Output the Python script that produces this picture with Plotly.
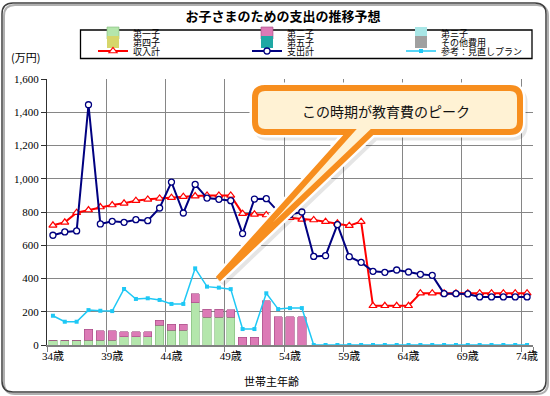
import plotly.graph_objects as go

# ---------------- data ----------------
ages = ["34歳", "35歳", "36歳", "37歳", "38歳", "39歳", "40歳", "41歳", "42歳", "43歳",
        "44歳", "45歳", "46歳", "47歳", "48歳", "49歳", "50歳", "51歳", "52歳", "53歳",
        "54歳", "55歳", "56歳", "57歳", "58歳", "59歳", "60歳", "61歳", "62歳", "63歳",
        "64歳", "65歳", "66歳", "67歳", "68歳", "69歳", "70歳", "71歳", "72歳", "73歳", "74歳"]
tick_labels = ["34歳", "39歳", "44歳", "49歳", "54歳", "59歳", "64歳", "69歳", "74歳"]

child1 = [30, 30, 30, 30, 30, 30, 50, 50, 50, 120, 90, 90, 254, 167, 167, 167,
          0, 0, 0, 0, 0, 0, 0, 0, 0, 0, 0, 0, 0, 0, 0, 0, 0, 0, 0, 0, 0, 0, 0, 0, 0]
child2 = [0, 0, 0, 66, 56, 56, 30, 30, 30, 30, 36, 36, 53, 49, 49, 45,
          46, 46, 267, 170, 170, 170, 0, 0, 0, 0, 0, 0, 0, 0, 0, 0, 0, 0, 0, 0, 0, 0, 0, 0, 0]
child3 = [0] * 41
child4 = [0] * 41
child5 = [0] * 41
other_cost = [0] * 41

income = [720, 738, 796, 812, 830, 842, 852, 868, 876, 882, 886, 892, 896, 900, 900, 900,
          790, 786, 782, 772, 766, 756, 752, 742, 732, 718, 742, 236, 236, 236, 236,
          312, 312, 312, 312, 312, 312, 312, 312, 312, 312]
expense = [660, 680, 686, 1445, 728, 744, 738, 754, 748, 824, 980, 794, 966, 884, 876, 868,
           670, 878, 880, 802, 785, 800, 533, 537, 724, 531, 497, 443, 437, 451, 439, 425, 419,
           309, 309, 307, 289, 289, 289, 289, 289]
plan = [176, 140, 140, 210, 206, 204, 337, 277, 281, 271, 247, 247, 461, 351, 345, 336,
        96, 96, 311, 216, 222, 222, 0, 0, 0, 0, 0, 0, 0, 0, 0, 0, 0, 0, 0, 0, 0, 0, 0, 0, 0]

# ---------------- layout geometry (pixels) ----------------
W, H = 550, 396
L, R, T, B = 47, 533, 79, 345
PW, PH = R - L, B - T


def px(x):
    return (x - L) / PW


def py(y):
    return (B - y) / PH


def rrect_path(x0, y0, x1, y1, r, tail=None):
    pts = [f"M{px(x0 + r)},{py(y0)}", f"L{px(x1 - r)},{py(y0)}",
           f"Q{px(x1)},{py(y0)} {px(x1)},{py(y0 + r)}", f"L{px(x1)},{py(y1 - r)}",
           f"Q{px(x1)},{py(y1)} {px(x1 - r)},{py(y1)}"]
    if tail:
        (rx, tx, ty, lx) = tail
        pts += [f"L{px(rx)},{py(y1)}", f"L{px(tx)},{py(ty)}", f"L{px(lx)},{py(y1)}"]
    pts += [f"L{px(x0 + r)},{py(y1)}", f"Q{px(x0)},{py(y1)} {px(x0)},{py(y1 - r)}",
            f"L{px(x0)},{py(y0 + r)}", f"Q{px(x0)},{py(y0)} {px(x0 + r)},{py(y0)}", "Z"]
    return " ".join(pts)


JP = "Noto Sans CJK JP"
SERIF = "Liberation Serif, Noto Sans CJK JP"

fig = go.Figure()

bar_specs = [
    ("第一子", child1, "#B4E6AC", "#7FB878", "legend"),
    ("第二子", child2, "#DC7AB6", "#A24A82", "legend"),
    ("第三子", child3, "#A8E6E6", "#6FB0B0", "legend"),
    ("第四子", child4, "#D6D66A", "#A0A040", "legend2"),
    ("第五子", child5, "#1FA8A4", "#187F7C", "legend2"),
    ("その他費用", other_cost, "#A0A0A0", "#707070", "legend2"),
]
for name, vals, col, lcol, lg in bar_specs:
    fig.add_trace(go.Bar(x=ages, y=vals, name=name, legend=lg,
                         marker=dict(color=col, line=dict(color=lcol, width=0.6 if max(vals) > 0 else 0))))

fig.add_trace(go.Scatter(x=ages, y=income, name="収入計", legend="legend3", mode="lines+markers",
                         line=dict(color="#FF0000", width=2),
                         marker=dict(symbol="triangle-up", size=7, color="white",
                                     line=dict(color="#FF0000", width=1.2))))
fig.add_trace(go.Scatter(x=ages, y=expense, name="支出計", legend="legend3", mode="lines+markers",
                         line=dict(color="#000080", width=2),
                         marker=dict(symbol="circle", size=6, color="white",
                                     line=dict(color="#000080", width=1.3))))
fig.add_trace(go.Scatter(x=ages, y=plan, name="参考：見直しプラン", legend="legend3", mode="lines+markers",
                         line=dict(color="#1EC8F5", width=1.5),
                         marker=dict(symbol="square", size=4, color="#1EC8F5")))

leg_common = dict(orientation="h", xref="paper", yref="paper", xanchor="left", yanchor="middle",
                  x=px(93), bgcolor="rgba(0,0,0,0)", borderwidth=0, traceorder="normal",
                  entrywidth=109, entrywidthmode="pixels", itemwidth=30,
                  font=dict(family=JP, size=9, color="#000"), tracegroupgap=0)

orange = "#F78E1E"
cream = "#FFF2D4"
call_tail = (372, 218, 279, 350)

shapes = [
    # outer frame shadow + frame
    dict(type="path", xref="paper", yref="paper", path=rrect_path(4, 5, 548, 394, 11),
         line=dict(color="#B0B0B0", width=2), fillcolor="rgba(0,0,0,0)", layer="below"),
    dict(type="path", xref="paper", yref="paper", path=rrect_path(2, 3, 546, 392, 11),
         line=dict(color="#404040", width=1.5), fillcolor="rgba(0,0,0,0)", layer="above"),
    # legend box
    dict(type="rect", xref="paper", yref="paper", x0=px(80.5), x1=px(532), y0=py(30), y1=py(58.5),
         line=dict(color="#000", width=1.3), fillcolor="rgba(0,0,0,0)"),
    # callout shadow, glow, body
    dict(type="path", xref="paper", yref="paper",
         path=rrect_path(258, 92, 523, 136, 10, (375, 221, 283, 353)),
         line=dict(color="rgba(0,0,0,0.10)", width=9), fillcolor="rgba(0,0,0,0.12)"),
    dict(type="path", xref="paper", yref="paper", path=rrect_path(255, 88, 520, 132, 10, call_tail),
         line=dict(color="white", width=11), fillcolor=cream),
    dict(type="path", xref="paper", yref="paper", path=rrect_path(255, 88, 520, 132, 10, call_tail),
         line=dict(color=orange, width=6), fillcolor=cream),
]

annotations = [
    dict(text="この時期が教育費のピーク", xref="paper", yref="paper", x=px(386), y=py(111),
         xanchor="center", yanchor="middle",
         showarrow=False, font=dict(family=JP, size=14, color="#111")),
    dict(text="(万円)", xref="paper", yref="paper", x=px(25), y=py(57),
         xanchor="center", yanchor="middle",
         showarrow=False, font=dict(family=JP, size=11, color="#000")),
    dict(text="世帯主年齢", xref="paper", yref="paper", x=px(271), y=py(381),
         xanchor="center", yanchor="middle",
         showarrow=False, font=dict(family=JP, size=11, color="#000")),
]

fig.update_layout(
    width=W, height=H,
    margin=dict(l=L, r=W - R, t=T, b=H - B, autoexpand=False),
    paper_bgcolor="white", plot_bgcolor="white",
    barmode="stack", bargap=0.3,
    title=dict(text="<b>お子さまのための支出の推移予想</b>", x=283 / W, y=1 - 16 / H,
               xanchor="center", yanchor="middle", font=dict(family=JP, size=13, color="#000")),
    legend=dict(leg_common, y=py(33)),
    legend2=dict(leg_common, y=py(42)),
    legend3=dict(leg_common, y=py(51)),
    xaxis=dict(type="category", tickmode="array", tickvals=tick_labels, ticktext=tick_labels,
               tickson="boundaries", showgrid=True, gridcolor="#868686", gridwidth=1,
               showline=True, linecolor="#808080", linewidth=1.5, tickangle=0,
               ticks="outside", ticklen=5, tickcolor="#808080",
               tickfont=dict(family=SERIF, size=11, color="#000"),
               range=[-0.5, 40.5], fixedrange=True),
    yaxis=dict(range=[0, 1600], dtick=200, tick0=0, tickformat=",d",
               showgrid=True, gridcolor="#868686", gridwidth=1, zeroline=False,
               showline=True, linecolor="#303030", linewidth=1.3,
               ticks="outside", ticklen=5, tickcolor="#303030",
               tickfont=dict(family=SERIF, size=11, color="#000")),
    shapes=shapes, annotations=annotations,
)

fig.write_html("out.html", config={"displayModeBar": False},
               post_script="document.body.style.margin='0px';document.body.style.padding='0px';")
